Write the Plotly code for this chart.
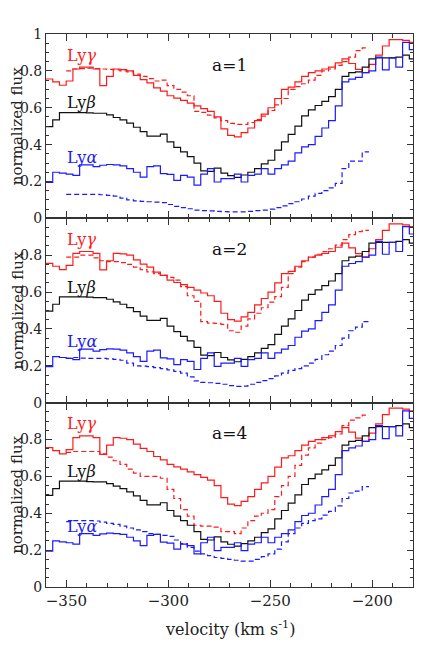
import numpy as np
import plotly.graph_objects as go
from plotly.subplots import make_subplots

# velocity binning of the spectra (km/s)
V_START = -360.0
V_BIN = 3.3
DASH_FIRST_BIN = 3   # model (dashed) curves start at this bin

# observed profiles (same in every panel), one value per bin
lyg_obs = [0.756, 0.740, 0.722, 0.745, 0.810, 0.820, 0.820, 0.810, 0.720, 0.770,
           0.810, 0.807, 0.800, 0.775, 0.752, 0.735, 0.708, 0.690, 0.665, 0.652,
           0.640, 0.625, 0.610, 0.595, 0.580, 0.550, 0.485, 0.450, 0.442, 0.465,
           0.490, 0.530, 0.565, 0.600, 0.650, 0.700, 0.712, 0.740, 0.770, 0.790,
           0.800, 0.810, 0.820, 0.843, 0.865, 0.840, 0.808, 0.790, 0.835, 0.885,
           0.935, 0.970, 0.970, 0.965, 0.955]
lyb_obs = [0.497, 0.534, 0.574, 0.574, 0.574, 0.574, 0.572, 0.570, 0.570, 0.561,
           0.547, 0.534, 0.516, 0.494, 0.470, 0.446, 0.446, 0.457, 0.415, 0.385,
           0.360, 0.335, 0.300, 0.258, 0.255, 0.272, 0.245, 0.232, 0.222, 0.235,
           0.250, 0.270, 0.295, 0.315, 0.370, 0.415, 0.455, 0.500, 0.556, 0.588,
           0.612, 0.635, 0.660, 0.700, 0.770, 0.790, 0.795, 0.820, 0.865, 0.870,
           0.870, 0.870, 0.875, 0.885, 0.865]
lya_obs = [0.195, 0.250, 0.245, 0.240, 0.233, 0.290, 0.290, 0.280, 0.288, 0.292,
           0.290, 0.285, 0.270, 0.250, 0.224, 0.280, 0.285, 0.243, 0.238, 0.206,
           0.233, 0.224, 0.180, 0.240, 0.270, 0.197, 0.215, 0.215, 0.240, 0.197,
           0.233, 0.240, 0.270, 0.240, 0.270, 0.290, 0.310, 0.355, 0.388, 0.400,
           0.445, 0.490, 0.530, 0.610, 0.740, 0.755, 0.765, 0.790, 0.800, 0.875,
           0.805, 0.870, 0.820, 0.955, 0.915]

# model profiles for a = 1, 2, 4
lyg_mod_a1 = [0.800, 0.810, 0.812, 0.815, 0.812, 0.810, 0.808, 0.805, 0.800, 0.795,
              0.782, 0.770, 0.758, 0.745, 0.750, 0.720, 0.700, 0.685, 0.665, 0.580,
              0.575, 0.560, 0.545, 0.530, 0.515, 0.510, 0.510, 0.520, 0.535, 0.555,
              0.585, 0.615, 0.650, 0.700, 0.715, 0.730, 0.750, 0.775, 0.800, 0.810,
              0.830, 0.850, 0.875, 0.910, 0.925]
lya_mod_a1 = [0.130, 0.130, 0.130, 0.130, 0.130, 0.128, 0.125, 0.120, 0.110, 0.100,
              0.095, 0.092, 0.090, 0.088, 0.085, 0.075, 0.065, 0.058, 0.052, 0.045,
              0.042, 0.040, 0.038, 0.036, 0.035, 0.035, 0.035, 0.038, 0.042, 0.045,
              0.050, 0.058, 0.068, 0.080, 0.090, 0.105, 0.120, 0.135, 0.150, 0.165,
              0.190, 0.270, 0.310, 0.310, 0.360]
lyg_mod_a2 = [0.790, 0.790, 0.800, 0.800, 0.785, 0.770, 0.765, 0.765, 0.760, 0.750,
              0.735, 0.722, 0.710, 0.700, 0.690, 0.680, 0.665, 0.630, 0.580, 0.550,
              0.440, 0.432, 0.430, 0.425, 0.390, 0.382, 0.415, 0.455, 0.485, 0.515,
              0.545, 0.575, 0.625, 0.700, 0.735, 0.765, 0.790, 0.805, 0.820, 0.835,
              0.855, 0.885, 0.912, 0.928, 0.935]
lya_mod_a2 = [0.240, 0.245, 0.242, 0.240, 0.240, 0.240, 0.238, 0.235, 0.230, 0.215,
              0.200, 0.198, 0.195, 0.190, 0.185, 0.178, 0.170, 0.160, 0.140, 0.118,
              0.110, 0.108, 0.105, 0.100, 0.092, 0.088, 0.090, 0.100, 0.110, 0.120,
              0.130, 0.145, 0.160, 0.175, 0.185, 0.200, 0.215, 0.235, 0.260, 0.280,
              0.310, 0.350, 0.390, 0.410, 0.440]
lyg_mod_a4 = [0.730, 0.735, 0.735, 0.735, 0.735, 0.722, 0.705, 0.685, 0.665, 0.640,
              0.618, 0.600, 0.600, 0.600, 0.590, 0.530, 0.480, 0.420, 0.385, 0.335,
              0.330, 0.330, 0.325, 0.300, 0.300, 0.290, 0.320, 0.360, 0.385, 0.400,
              0.420, 0.490, 0.550, 0.600, 0.660, 0.715, 0.755, 0.780, 0.800, 0.810,
              0.830, 0.875, 0.905, 0.918, 0.932]
lya_mod_a4 = [0.355, 0.360, 0.360, 0.360, 0.358, 0.352, 0.345, 0.340, 0.330, 0.320,
              0.310, 0.300, 0.290, 0.285, 0.280, 0.275, 0.255, 0.235, 0.215, 0.195,
              0.180, 0.170, 0.160, 0.155, 0.150, 0.145, 0.140, 0.140, 0.150, 0.165,
              0.180, 0.205, 0.245, 0.290, 0.320, 0.345, 0.360, 0.370, 0.390, 0.410,
              0.440, 0.480, 0.510, 0.520, 0.545]

panel_labels = ["a=1", "a=2", "a=4"]
models = [(lyg_mod_a1, lya_mod_a1), (lyg_mod_a2, lya_mod_a2), (lyg_mod_a4, lya_mod_a4)]

RED = "#ff1a1a"
BLUE = "#1a1aff"
BLACK = "#111111"
FONT = "DejaVu Serif"


def steps(vals, first_bin=0):
    # bin left edges plus closing right edge, for a histogram-style line
    x = V_START + V_BIN * np.arange(first_bin, first_bin + len(vals) + 1)
    y = list(vals) + [vals[-1]]
    return x, y


fig = make_subplots(rows=3, cols=1, shared_xaxes=True, vertical_spacing=0)

for i, (lyg_mod, lya_mod) in enumerate(models):
    row = i + 1
    curves = [
        (lyg_obs, 0, RED, "solid"),
        (lyg_mod, DASH_FIRST_BIN, RED, "5px,3px"),
        (lyb_obs, 0, BLACK, "solid"),
        (lya_obs, 0, BLUE, "solid"),
        (lya_mod, DASH_FIRST_BIN, BLUE, "5px,3px"),
    ]
    for vals, first, color, dash in curves:
        x, y = steps(vals, first)
        fig.add_trace(go.Scatter(
            x=x, y=y,
            mode="lines",
            line_shape="hv",
            line=dict(color=color, width=1.2, dash=dash),
            showlegend=False,
            hoverinfo="skip"
        ), row=row, col=1)

    yref = "y" if row == 1 else "y%d" % row
    for txt, yy, color in [("Ly<i>γ</i>", 0.885, RED),
                           ("Ly<i>β</i>", 0.627, BLACK),
                           ("Ly<i>α</i>", 0.330, BLUE)]:
        fig.add_annotation(x=-350.5, y=yy, xref="x", yref=yref, text=txt,
                           xanchor="left", yanchor="middle",
                           showarrow=False, font=dict(family=FONT, size=16, color=color))
    fig.add_annotation(x=-270, y=0.834, xref="x", yref=yref, text=panel_labels[i],
                       xanchor="center", yanchor="middle",
                       showarrow=False, font=dict(family=FONT, size=17, color=BLACK))
    # y title for every panel
    fig.add_annotation(x=0, y=0.5, xref="paper", yref=yref + " domain",
                       xanchor="center", yanchor="middle",
                       xshift=-29, text="normalized flux", textangle=-90,
                       showarrow=False, font=dict(family=FONT, size=15, color="#222"))

fig.add_annotation(x=0.5, y=0, xref="paper", yref="paper", yshift=-41,
                   xanchor="center", yanchor="middle",
                   text="velocity (km s<sup>-1</sup>)", showarrow=False,
                   font=dict(family=FONT, size=16, color="#222"))

fig.update_xaxes(range=[-360, -180], tick0=-350, dtick=50, ticks="inside", ticklen=7,
                 minor=dict(dtick=10, ticklen=4, ticks="inside", tick0=-350),
                 mirror="allticks", showline=True, linecolor="#333", linewidth=1,
                 tickcolor="#333", showgrid=False, zeroline=False,
                 tickfont=dict(family=FONT, size=15, color="#222"))
fig.update_yaxes(range=[0, 1], tickvals=[0, 0.2, 0.4, 0.6, 0.8], ticks="inside", ticklen=6,
                 minor=dict(dtick=0.05, ticklen=3, ticks="inside"),
                 mirror="allticks", showline=True, linecolor="#333", linewidth=1,
                 tickcolor="#333", showgrid=False, zeroline=False,
                 tickfont=dict(family=FONT, size=14, color="#222"))
fig.update_yaxes(tickvals=[0, 0.2, 0.4, 0.6, 0.8, 1], row=1, col=1)

# the page puts the figure 8px in from the top-left corner
fig.update_layout(
    width=428, height=646,
    margin=dict(l=38, r=23, t=26, b=67),
    paper_bgcolor="white", plot_bgcolor="white",
    font=dict(family=FONT, color="#222"),
)

fig.write_html("out.html")
